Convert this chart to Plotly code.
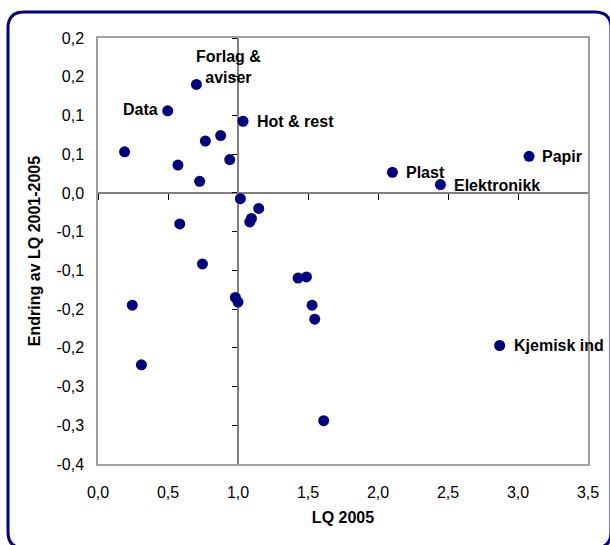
import plotly.graph_objects as go

# ---- data ----
lq_2005 = [0.498, 0.703, 1.036, 0.19, 0.767, 0.876, 0.571, 0.941, 0.726, 1.017,
           1.148, 1.096, 1.084, 0.584, 0.746, 0.245, 0.31, 0.981, 1.0, 1.429,
           1.489, 1.529, 1.548, 2.869, 1.612, 2.103, 2.446, 3.079]
endring = [0.106, 0.140, 0.0925, 0.053, 0.067, 0.074, 0.036, 0.043, 0.015, -0.0074,
           -0.020, -0.033, -0.0375, -0.040, -0.0917, -0.145, -0.222, -0.135, -0.141, -0.110,
           -0.1085, -0.145, -0.163, -0.197, -0.294, 0.0266, 0.0107, 0.0473]
labels = ["Data", "Forlag &<br>aviser", "Hot & rest", "", "", "", "", "", "", "",
          "", "", "", "", "", "", "", "", "", "",
          "", "", "", "Kjemisk ind", "", "Plast", "Elektronikk", "Papir"]

x_tickvals = [0, 0.5, 1.0, 1.5, 2.0, 2.5, 3.0, 3.5]
x_ticktext = ["0,0", "0,5", "1,0", "1,5", "2,0", "2,5", "3,0", "3,5"]
y_tickvals = [0.2, 0.15, 0.1, 0.05, 0.0, -0.05, -0.1, -0.15, -0.2, -0.25, -0.3, -0.35]
y_ticktext = ["0,2", "0,2", "0,1", "0,1", "0,0", "-0,1", "-0,1", "-0,2", "-0,2", "-0,3", "-0,3", "-0,4"]

x_title = "LQ 2005"
y_title = "Endring av LQ 2001-2005"

# ---- layout constants ----
FIG_W, FIG_H = 610, 545
M_L, M_R, M_T, M_B = 98, 22, 38, 81
PW, PH = FIG_W - M_L - M_R, FIG_H - M_T - M_B
X_RANGE = [0, 3.5]
Y_RANGE = [-0.35, 0.2]
FONT = "Liberation Sans, Arial, sans-serif"
NAVY = "#000080"

# label placement (style only)
label_style = {
    "Data": dict(xanchor="right", xshift=-8, yshift=1, align="right"),
    "Forlag &<br>aviser": dict(xanchor="center", xshift=32, yshift=17, align="center"),
    "Hot & rest": dict(xanchor="left", xshift=12, yshift=0, align="left"),
    "Kjemisk ind": dict(xanchor="left", xshift=12, yshift=0, align="left"),
    "Plast": dict(xanchor="left", xshift=12, yshift=0, align="left"),
    "Elektronikk": dict(xanchor="left", xshift=12, yshift=-1, align="left"),
    "Papir": dict(xanchor="left", xshift=11, yshift=0, align="left"),
}

fig = go.Figure()
fig.add_trace(go.Scatter(
    x=lq_2005, y=endring, mode="markers",
    marker=dict(color=NAVY, size=11, line=dict(width=0)),
    showlegend=False, hoverinfo="x+y",
))
# dummy trace to activate the crossing axes
fig.add_trace(go.Scatter(x=[None], y=[None], xaxis="x2", yaxis="y2",
                         showlegend=False, hoverinfo="skip"))

for xv, yv, lab in zip(lq_2005, endring, labels):
    if not lab:
        continue
    st = label_style[lab]
    fig.add_annotation(
        x=xv, y=yv, text=lab, showarrow=False,
        font=dict(family=FONT, size=16, color="black", weight="bold"),
        yanchor="middle", **st,
    )

# rounded outer frame, in paper coords
def px(xp):
    return (xp - M_L) / PW

def py(yp):
    return (M_T + PH - yp) / PH

x0, x1, y0, y1, r = 8, 611, 12, 548, 16
path = (
    f"M {px(x0 + r)},{py(y0)} L {px(x1 - r)},{py(y0)} "
    f"Q {px(x1)},{py(y0)} {px(x1)},{py(y0 + r)} "
    f"L {px(x1)},{py(y1 - r)} Q {px(x1)},{py(y1)} {px(x1 - r)},{py(y1)} "
    f"L {px(x0 + r)},{py(y1)} Q {px(x0)},{py(y1)} {px(x0)},{py(y1 - r)} "
    f"L {px(x0)},{py(y0 + r)} Q {px(x0)},{py(y0)} {px(x0 + r)},{py(y0)} Z"
)
fig.add_shape(type="path", path=path, xref="paper", yref="paper",
              line=dict(color=NAVY, width=3), layer="below")

cross_x_pos = (0 - Y_RANGE[0]) / (Y_RANGE[1] - Y_RANGE[0])
cross_y_pos = (1.0 - X_RANGE[0]) / (X_RANGE[1] - X_RANGE[0])

fig.update_layout(
    width=FIG_W, height=FIG_H,
    margin=dict(l=M_L, r=M_R, t=M_T, b=M_B),
    paper_bgcolor="white", plot_bgcolor="white",
    font=dict(family=FONT, size=16, color="black"),
    xaxis=dict(
        range=X_RANGE, tickvals=x_tickvals, ticktext=x_ticktext,
        showgrid=False, zeroline=False, showline=True, mirror=True,
        linecolor="#a0a0a0", linewidth=1.5, ticks="",
        ticklabelstandoff=13,
        title=dict(text=x_title, font=dict(size=16, weight="bold"), standoff=12),
    ),
    yaxis=dict(
        range=Y_RANGE, tickvals=y_tickvals, ticktext=y_ticktext,
        showgrid=False, zeroline=False, showline=True, mirror=True,
        linecolor="#a0a0a0", linewidth=1.5, ticks="",
        ticklabelstandoff=9,
        title=dict(text=y_title, font=dict(size=16, weight="bold"), standoff=12),
    ),
    xaxis2=dict(
        overlaying="x", anchor="free", position=cross_x_pos, side="bottom",
        range=X_RANGE, tickvals=x_tickvals, showticklabels=False,
        showgrid=False, zeroline=False, showline=True,
        linecolor="#808080", linewidth=2, ticks="outside", ticklen=6,
        tickcolor="black", tickwidth=1, layer="below traces",
    ),
    yaxis2=dict(
        overlaying="y", anchor="free", position=cross_y_pos, side="left",
        range=Y_RANGE, tickvals=y_tickvals, showticklabels=False,
        showgrid=False, zeroline=False, showline=True,
        linecolor="#808080", linewidth=2, ticks="outside", ticklen=5,
        tickcolor="black", tickwidth=1, layer="below traces",
    ),
)

fig.write_html(
    "out.html",
    config={"displayModeBar": False},
    post_script="document.body.style.margin='0';document.body.style.overflow='hidden';",
)
